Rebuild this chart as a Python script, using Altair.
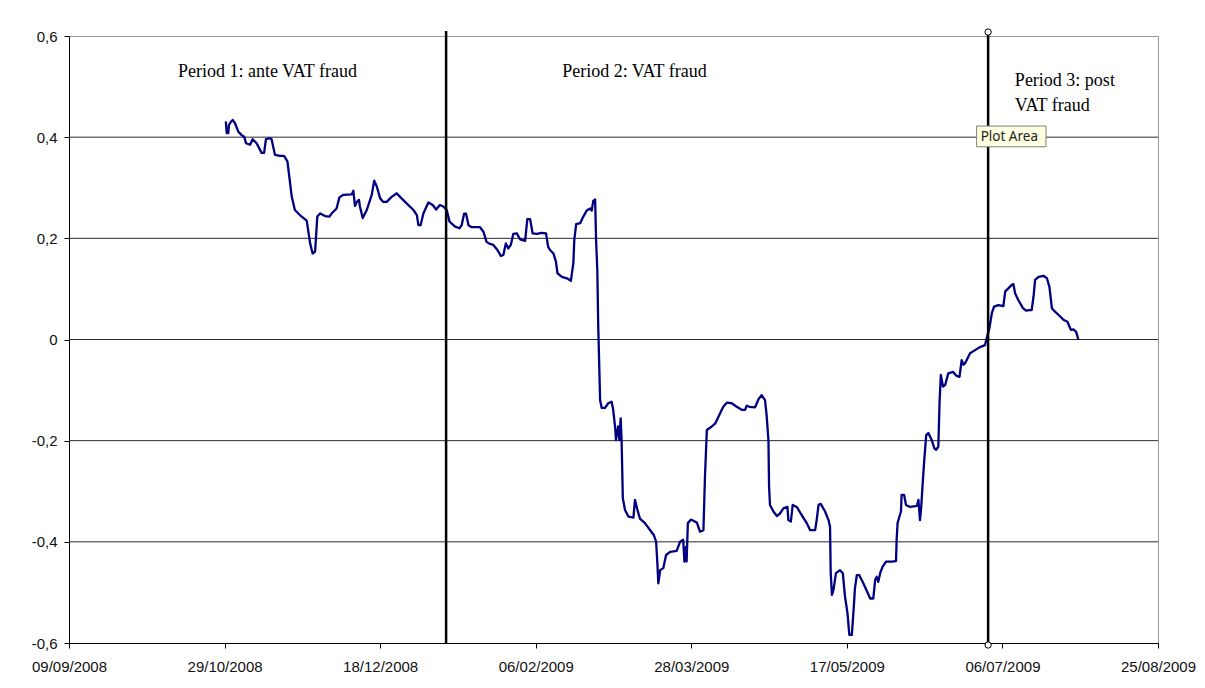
import altair as alt
import pandas as pd

START = pd.Timestamp("2008-09-09")

# days since 09/09/2008 and series value
day_offset = [
    50.4, 50.7, 51.2, 51.4, 52.1, 52.6, 53.4, 54.4, 55.5, 56.3, 56.9, 58.2, 59.0, 60.3, 61.9, 62.7,
    63.3, 64.6, 65.1, 66.2, 67.8, 69.1, 70.2, 70.8, 71.6, 72.6, 74.2, 76.4, 77.5, 78.3, 79.1, 79.8,
    80.7, 82.3, 83.7, 84.4, 86.0, 86.9, 88.2, 90.9, 91.4, 91.9, 92.5, 93.2, 93.5, 94.4, 95.7, 97.3,
    98.1, 98.9, 100.0, 101.0, 102.1, 103.7, 105.3, 106.4, 108.5, 110.7, 111.8, 112.3, 113.0, 113.9,
    115.5, 116.9, 118.0, 119.2, 120.3, 121.4, 122.3, 124.1, 125.5, 126.2, 127.0, 127.6, 128.4, 129.4,
    132.1, 133.2, 134.2, 135.3, 136.4, 137.7, 138.8, 139.6, 140.4, 141.2, 142.0, 142.8, 143.9, 145.0,
    146.6, 147.3, 148.2, 149.0, 150.3, 151.9, 153.3, 154.0, 154.6, 155.7, 156.5, 157.0, 158.4, 160.0,
    161.3, 162.1, 162.4, 163.0, 164.3, 165.3, 166.4, 167.5, 168.0, 168.5, 169.1, 169.4, 169.8, 170.1,
    170.7, 171.2, 172.3, 173.3, 174.4, 174.9, 175.5, 175.8, 176.5, 176.9, 177.3, 177.6, 178.0, 178.7,
    179.8, 181.4, 181.9, 182.7, 183.5, 185.1, 186.8, 188.0, 188.7, 189.1, 189.4, 190.0, 191.0, 191.9,
    193.2, 195.3, 196.4, 197.4, 197.8, 198.3, 198.5, 198.9, 199.9, 201.8, 202.8, 203.9, 204.4, 205.0,
    206.6, 207.7, 208.7, 209.8, 210.3, 211.4, 213.0, 214.6, 216.2, 217.3, 217.8, 218.7, 220.5, 221.6,
    222.6, 223.7, 224.2, 224.8, 225.0, 225.3, 226.4, 227.5, 228.5, 229.6, 230.9, 231.2, 232.0, 232.6,
    233.9, 235.5, 237.1, 238.2, 239.8, 240.3, 240.9, 241.6, 243.0, 244.1, 244.6, 244.8, 245.2, 245.7,
    246.5, 247.8, 248.7, 249.4, 250.2, 250.8, 251.6, 252.1, 252.6, 253.2, 254.0, 255.3, 257.5, 258.5,
    259.1, 259.6, 260.1, 260.7, 261.5, 262.6, 264.4, 265.8, 266.0, 266.3, 266.9, 267.4, 267.6, 268.4,
    269.0, 270.3, 272.5, 273.0, 273.5, 273.9, 274.3, 274.8, 275.5, 276.2, 277.3, 278.1, 278.7, 279.4,
    279.8, 280.2, 280.9, 281.6, 282.6, 284.1, 285.3, 286.2, 286.9, 287.5, 288.0, 288.8, 289.6, 291.2,
    292.8, 294.4, 294.8, 295.2, 295.8, 296.6, 297.3, 298.7, 300.3, 300.9, 301.9, 303.0, 303.5, 304.1,
    305.1, 306.6, 307.6, 308.7, 309.4, 310.0, 310.5, 311.6, 313.2, 314.3, 315.1, 315.9, 316.9, 318.5,
    319.6, 320.9, 322.0, 322.8, 323.7, 324.4,
]
value = [
    0.431, 0.408, 0.408, 0.424, 0.431, 0.434, 0.427, 0.411, 0.404, 0.401, 0.388, 0.385, 0.396, 0.388, 0.369, 0.369,
    0.396, 0.398, 0.396, 0.365, 0.363, 0.363, 0.352, 0.322, 0.282, 0.256, 0.246, 0.235, 0.190, 0.170, 0.174, 0.243,
    0.249, 0.244, 0.243, 0.249, 0.259, 0.281, 0.286, 0.287, 0.294, 0.264, 0.272, 0.276, 0.263, 0.240, 0.256, 0.286,
    0.314, 0.303, 0.279, 0.272, 0.272, 0.282, 0.289, 0.282, 0.269, 0.256, 0.246, 0.226, 0.226, 0.249,
    0.271, 0.266, 0.257, 0.266, 0.263, 0.256, 0.233, 0.223, 0.220, 0.226, 0.249, 0.249, 0.226, 0.222,
    0.222, 0.213, 0.193, 0.189, 0.187, 0.177, 0.165, 0.167, 0.190, 0.180, 0.187, 0.209, 0.210, 0.198,
    0.195, 0.238, 0.238, 0.210, 0.209, 0.211, 0.210, 0.183, 0.177, 0.170, 0.154, 0.131, 0.124, 0.121,
    0.116, 0.151, 0.197, 0.228, 0.230, 0.243, 0.255, 0.259, 0.255, 0.274, 0.277, 0.197, 0.137, 0.025,
    -0.120, -0.135, -0.135, -0.126, -0.123, -0.139, -0.172, -0.199, -0.172, -0.199, -0.156, -0.199, -0.314, -0.337,
    -0.350, -0.352, -0.317, -0.337, -0.354, -0.363, -0.377, -0.387, -0.400, -0.442, -0.482, -0.456, -0.452, -0.426,
    -0.420, -0.418, -0.400, -0.396, -0.439, -0.410, -0.439, -0.363, -0.356, -0.362, -0.380, -0.377, -0.271, -0.179,
    -0.172, -0.166, -0.153, -0.139, -0.133, -0.125, -0.126, -0.133, -0.139, -0.139, -0.131, -0.133, -0.134, -0.118,
    -0.110, -0.120, -0.149, -0.199, -0.291, -0.327, -0.340, -0.349, -0.344, -0.334, -0.331, -0.357, -0.360, -0.327,
    -0.331, -0.347, -0.363, -0.377, -0.377, -0.357, -0.327, -0.325, -0.340, -0.357, -0.370, -0.459, -0.505, -0.495,
    -0.462, -0.456, -0.462, -0.508, -0.541, -0.584, -0.584, -0.541, -0.492, -0.466, -0.466, -0.482, -0.512, -0.512,
    -0.475, -0.469, -0.479, -0.462, -0.449, -0.439, -0.439, -0.438, -0.396, -0.363, -0.350, -0.340, -0.307, -0.307,
    -0.327, -0.331, -0.329, -0.317, -0.357, -0.331, -0.291, -0.245, -0.189, -0.185, -0.199, -0.215, -0.218, -0.212,
    -0.123, -0.070, -0.093, -0.090, -0.067, -0.064, -0.072, -0.074, -0.041, -0.050, -0.047, -0.037, -0.027, -0.021,
    -0.015, -0.011, -0.001, 0.009, 0.022, 0.052, 0.065, 0.068, 0.066, 0.095, 0.101, 0.108, 0.110, 0.091,
    0.078, 0.062, 0.057, 0.058, 0.058, 0.085, 0.118, 0.124, 0.126, 0.121, 0.104, 0.062, 0.055, 0.046,
    0.039, 0.035, 0.019, 0.020, 0.015, 0.000,
]

tick_days = [0, 50, 100, 150, 200, 250, 300, 350]
y_ticks = [-0.6, -0.4, -0.2, 0.0, 0.2, 0.4, 0.6]
grid_values = [-0.4, -0.2, 0.0, 0.2, 0.4]
boundary_days = [121.2, 295.4]

period_text = ["Period 1: ante VAT fraud", "Period 2: VAT fraud", "Period 3: post", "VAT fraud"]
period_text_day = [35.0, 158.5, 304.0, 304.0]
period_text_value = [0.518, 0.518, 0.501, 0.452]

tooltip_text = "Plot Area"
tooltip_box_days = [291.7, 314.0]
tooltip_box_values = [0.422, 0.381]
tooltip_text_anchor = (293.0, 0.392)


def to_dates(days):
    return START + pd.to_timedelta(days, unit="D")


def dt(ts):
    return alt.DateTime(year=ts.year, month=ts.month, date=ts.day,
                        hours=ts.hour, minutes=ts.minute)


series = pd.DataFrame({"date": to_dates(day_offset), "value": value})
grid_df = pd.DataFrame({"value": grid_values})
bound_df = pd.DataFrame({"date": to_dates(boundary_days)})
handle_df = pd.DataFrame({"date": to_dates(boundary_days[1:])})
text_df = pd.DataFrame({"date": to_dates(period_text_day), "value": period_text_value,
                        "label": period_text})
tip_box_df = pd.DataFrame({"date": to_dates([tooltip_box_days[0]]),
                           "date2": to_dates([tooltip_box_days[1]]),
                           "value": [tooltip_box_values[0]], "value2": [tooltip_box_values[1]]})
tip_text_df = pd.DataFrame({"date": to_dates([tooltip_text_anchor[0]]),
                            "value": [tooltip_text_anchor[1]], "label": [tooltip_text]})

tick_dates = to_dates(tick_days)
x_scale = alt.Scale(domain=[dt(tick_dates[0]), dt(tick_dates[-1])], nice=False)
y_scale = alt.Scale(domain=[-0.6, 0.6], nice=False, zero=False)
x_axis = alt.Axis(values=[dt(t) for t in tick_dates], format="%d/%m/%Y", title=None,
                  labelFlush=False, labelOverlap=False)
y_axis = alt.Axis(values=y_ticks, title=None, labelOverlap=False,
                  labelExpr="replace(toString(datum.value), '.', ',')")

X = alt.X("date:T", scale=x_scale, axis=x_axis)
Y = alt.Y("value:Q", scale=y_scale, axis=y_axis)

grid = alt.Chart(grid_df).mark_rule(color="#2a2a2a", strokeWidth=1).encode(y=Y)

line = alt.Chart(series).mark_line(color="#000080", strokeWidth=2.3, strokeJoin="round").encode(
    x=X, y=Y)

bounds = alt.Chart(bound_df).mark_rule(color="black", strokeWidth=2.5).encode(
    x=X, y=alt.value(-5), y2=alt.value(607))

handle_top = alt.Chart(handle_df).mark_point(
    shape="circle", size=40, filled=True, fill="white", stroke="black", strokeWidth=1, opacity=1
).encode(x=X, y=alt.value(-4))
handle_bottom = alt.Chart(handle_df).mark_point(
    shape="circle", size=40, filled=True, fill="white", stroke="black", strokeWidth=1, opacity=1
).encode(x=X, y=alt.value(609))

texts = alt.Chart(text_df).mark_text(
    align="left", baseline="alphabetic", font="Liberation Serif", fontSize=18, color="black"
).encode(x=X, y=Y, text="label:N")

tip_box = alt.Chart(tip_box_df).mark_rect(fill="#ffffe1", stroke="#808080", strokeWidth=1).encode(
    x=X, x2="date2:T", y=Y, y2="value2:Q")
tip_text = alt.Chart(tip_text_df).mark_text(
    align="left", baseline="alphabetic", font="Noto Sans", fontSize=13.5, color="#222222"
).encode(x=X, y=Y, text="label:N")

chart = alt.layer(grid, line, bounds, texts, handle_top, handle_bottom, tip_box, tip_text).properties(
    width=1089, height=607,
    autosize=alt.AutoSizeParams(type="none"),
    padding={"left": 61, "top": 28, "right": 38, "bottom": 32},
).configure_view(
    stroke="#999999", strokeWidth=1
).configure_axis(
    grid=False, domainColor="black", domainWidth=1, tickColor="black", tickWidth=1, tickSize=5,
    labelFont="Liberation Sans", labelFontSize=15, labelColor="#111111"
).configure_axisX(
    labelPadding=11
).configure_axisY(
    labelPadding=7
)

chart.save("out.html", embed_options={"renderer": "svg", "actions": False})
